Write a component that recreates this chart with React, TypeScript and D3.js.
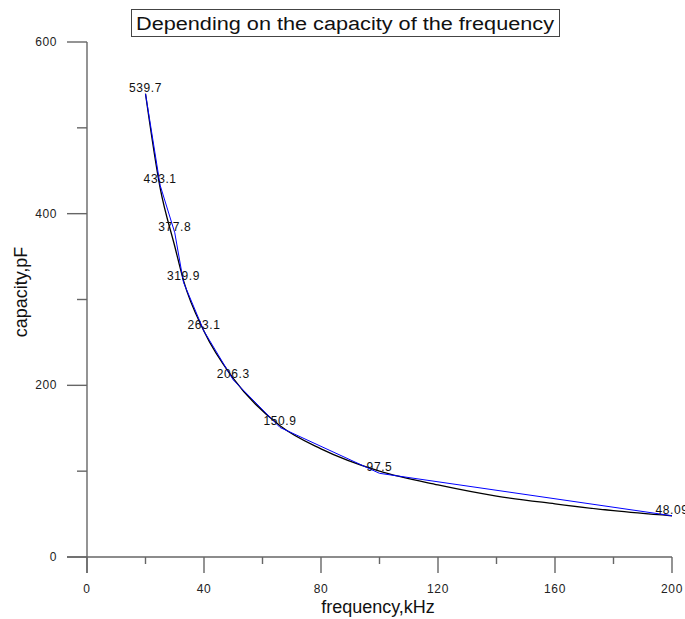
import React, { useEffect, useRef } from "react";
import * as d3 from "d3";

// measured points (blue polyline + labels)
const freq = [20, 25, 30, 33, 40, 50, 66, 100, 200];
const capacity = [539.7, 433.1, 377.8, 319.9, 263.1, 206.3, 150.9, 97.5, 48.09];
const pointLabels = ["539.7", "433.1", "377.8", "319.9", "263.1", "206.3", "150.9", "97.5", "48.09"];

// approximating curve (black)
const fitFreq = [20, 25, 30, 33, 40, 50, 66, 80, 100, 120, 140, 160, 180, 200];
const fitCapacity = [539.7, 430, 362, 322, 263, 208, 153, 126, 100, 84, 71, 62, 54, 48];

const xTicks = [0, 40, 80, 120, 160, 200];
const xMinorTicks = [20, 60, 100, 140, 180];
const yTicks = [0, 200, 400, 600];
const yMinorTicks = [100, 300, 500];

const title = "Depending on the capacity of the frequency";
const xTitle = "frequency,kHz";
const yTitle = "capacity,pF";

export default function App() {
  const ref = useRef<SVGSVGElement>(null);

  useEffect(() => {
    const width = 685;
    const height = 619;
    const svg = d3.select(ref.current);
    svg.selectAll("*").remove();

    const x = d3.scaleLinear().domain([0, 200]).range([87, 672]);
    const y = d3.scaleLinear().domain([0, 600]).range([557, 42]);
    const font = "'Liberation Sans', Arial, sans-serif";
    const axisColor = "#666";

    svg.attr("width", width).attr("height", height);

    // title box
    svg
      .append("rect")
      .attr("x", 131.5)
      .attr("y", 9.5)
      .attr("width", 428)
      .attr("height", 27)
      .attr("fill", "none")
      .attr("stroke", "#444")
      .attr("stroke-width", 1);
    svg
      .append("text")
      .attr("x", 345)
      .attr("y", 30)
      .attr("text-anchor", "middle")
      .attr("font-family", font)
      .attr("font-size", 18)
      .attr("textLength", 418)
      .attr("lengthAdjust", "spacingAndGlyphs")
      .attr("fill", "#111")
      .text(title);

    const ax = svg.append("g").attr("stroke", axisColor).attr("stroke-width", 1.4);

    // axis lines
    ax.append("line").attr("x1", 67).attr("x2", x(200)).attr("y1", y(0)).attr("y2", y(0));
    ax.append("line").attr("x1", x(0)).attr("x2", x(0)).attr("y1", y(600)).attr("y2", 573);

    // x ticks
    ax.selectAll(".xt")
      .data(xTicks)
      .join("line")
      .attr("x1", d => x(d))
      .attr("x2", d => x(d))
      .attr("y1", y(0))
      .attr("y2", y(0) + 16);
    ax.selectAll(".xm")
      .data(xMinorTicks)
      .join("line")
      .attr("class", "xm")
      .attr("x1", d => x(d))
      .attr("x2", d => x(d))
      .attr("y1", y(0))
      .attr("y2", y(0) + 7);

    // y ticks
    ax.selectAll(".yt")
      .data(yTicks)
      .join("line")
      .attr("class", "yt")
      .attr("x1", x(0) - 20)
      .attr("x2", x(0))
      .attr("y1", d => y(d))
      .attr("y2", d => y(d));
    ax.selectAll(".ym")
      .data(yMinorTicks)
      .join("line")
      .attr("class", "ym")
      .attr("x1", x(0) - 10)
      .attr("x2", x(0))
      .attr("y1", d => y(d))
      .attr("y2", d => y(d));

    // tick labels
    svg
      .append("g")
      .attr("font-family", font)
      .attr("font-size", 12)
      .attr("letter-spacing", 0.6)
      .attr("fill", "#222")
      .attr("text-anchor", "middle")
      .selectAll("text")
      .data(xTicks)
      .join("text")
      .attr("x", d => x(d))
      .attr("y", 593)
      .text(d => d);
    svg
      .append("g")
      .attr("font-family", font)
      .attr("font-size", 12)
      .attr("letter-spacing", 0.6)
      .attr("fill", "#222")
      .attr("text-anchor", "end")
      .selectAll("text")
      .data(yTicks)
      .join("text")
      .attr("x", 57)
      .attr("y", d => y(d) + 4)
      .text(d => d);

    // axis titles
    svg
      .append("text")
      .attr("x", 378)
      .attr("y", 613)
      .attr("text-anchor", "middle")
      .attr("font-family", font)
      .attr("font-size", 18)
      .attr("fill", "#111")
      .text(xTitle);
    svg
      .append("text")
      .attr("transform", "translate(27,292) rotate(-90)")
      .attr("text-anchor", "middle")
      .attr("font-family", font)
      .attr("font-size", 18)
      .attr("fill", "#111")
      .text(yTitle);

    // black fitted curve
    const fit = fitFreq.map((f, i) => [f, fitCapacity[i]] as [number, number]);
    svg
      .append("path")
      .attr("fill", "none")
      .attr("stroke", "#000")
      .attr("stroke-width", 1.3)
      .attr(
        "d",
        d3
          .line<[number, number]>()
          .x(d => x(d[0]))
          .y(d => y(d[1]))
          .curve(d3.curveMonotoneX)(fit)
      );

    // blue polyline through measured points
    const pts = freq.map((f, i) => [f, capacity[i]] as [number, number]);
    svg
      .append("path")
      .attr("fill", "none")
      .attr("stroke", "#0000ff")
      .attr("stroke-width", 1)
      .attr(
        "d",
        d3
          .line<[number, number]>()
          .x(d => x(d[0]))
          .y(d => y(d[1]))(pts)
      );

    // point labels
    svg
      .append("g")
      .attr("font-family", font)
      .attr("font-size", 12)
      .attr("letter-spacing", 0.6)
      .attr("fill", "#111")
      .attr("text-anchor", "middle")
      .selectAll("text")
      .data(pts)
      .join("text")
      .attr("x", d => x(d[0]))
      .attr("y", d => y(d[1]) - 2)
      .text((d, i) => pointLabels[i]);
  }, []);

  return (
    <svg
      ref={ref}
      style={{ position: "absolute", left: 0, top: 0, display: "block", background: "#fff" }}
    />
  );
}
